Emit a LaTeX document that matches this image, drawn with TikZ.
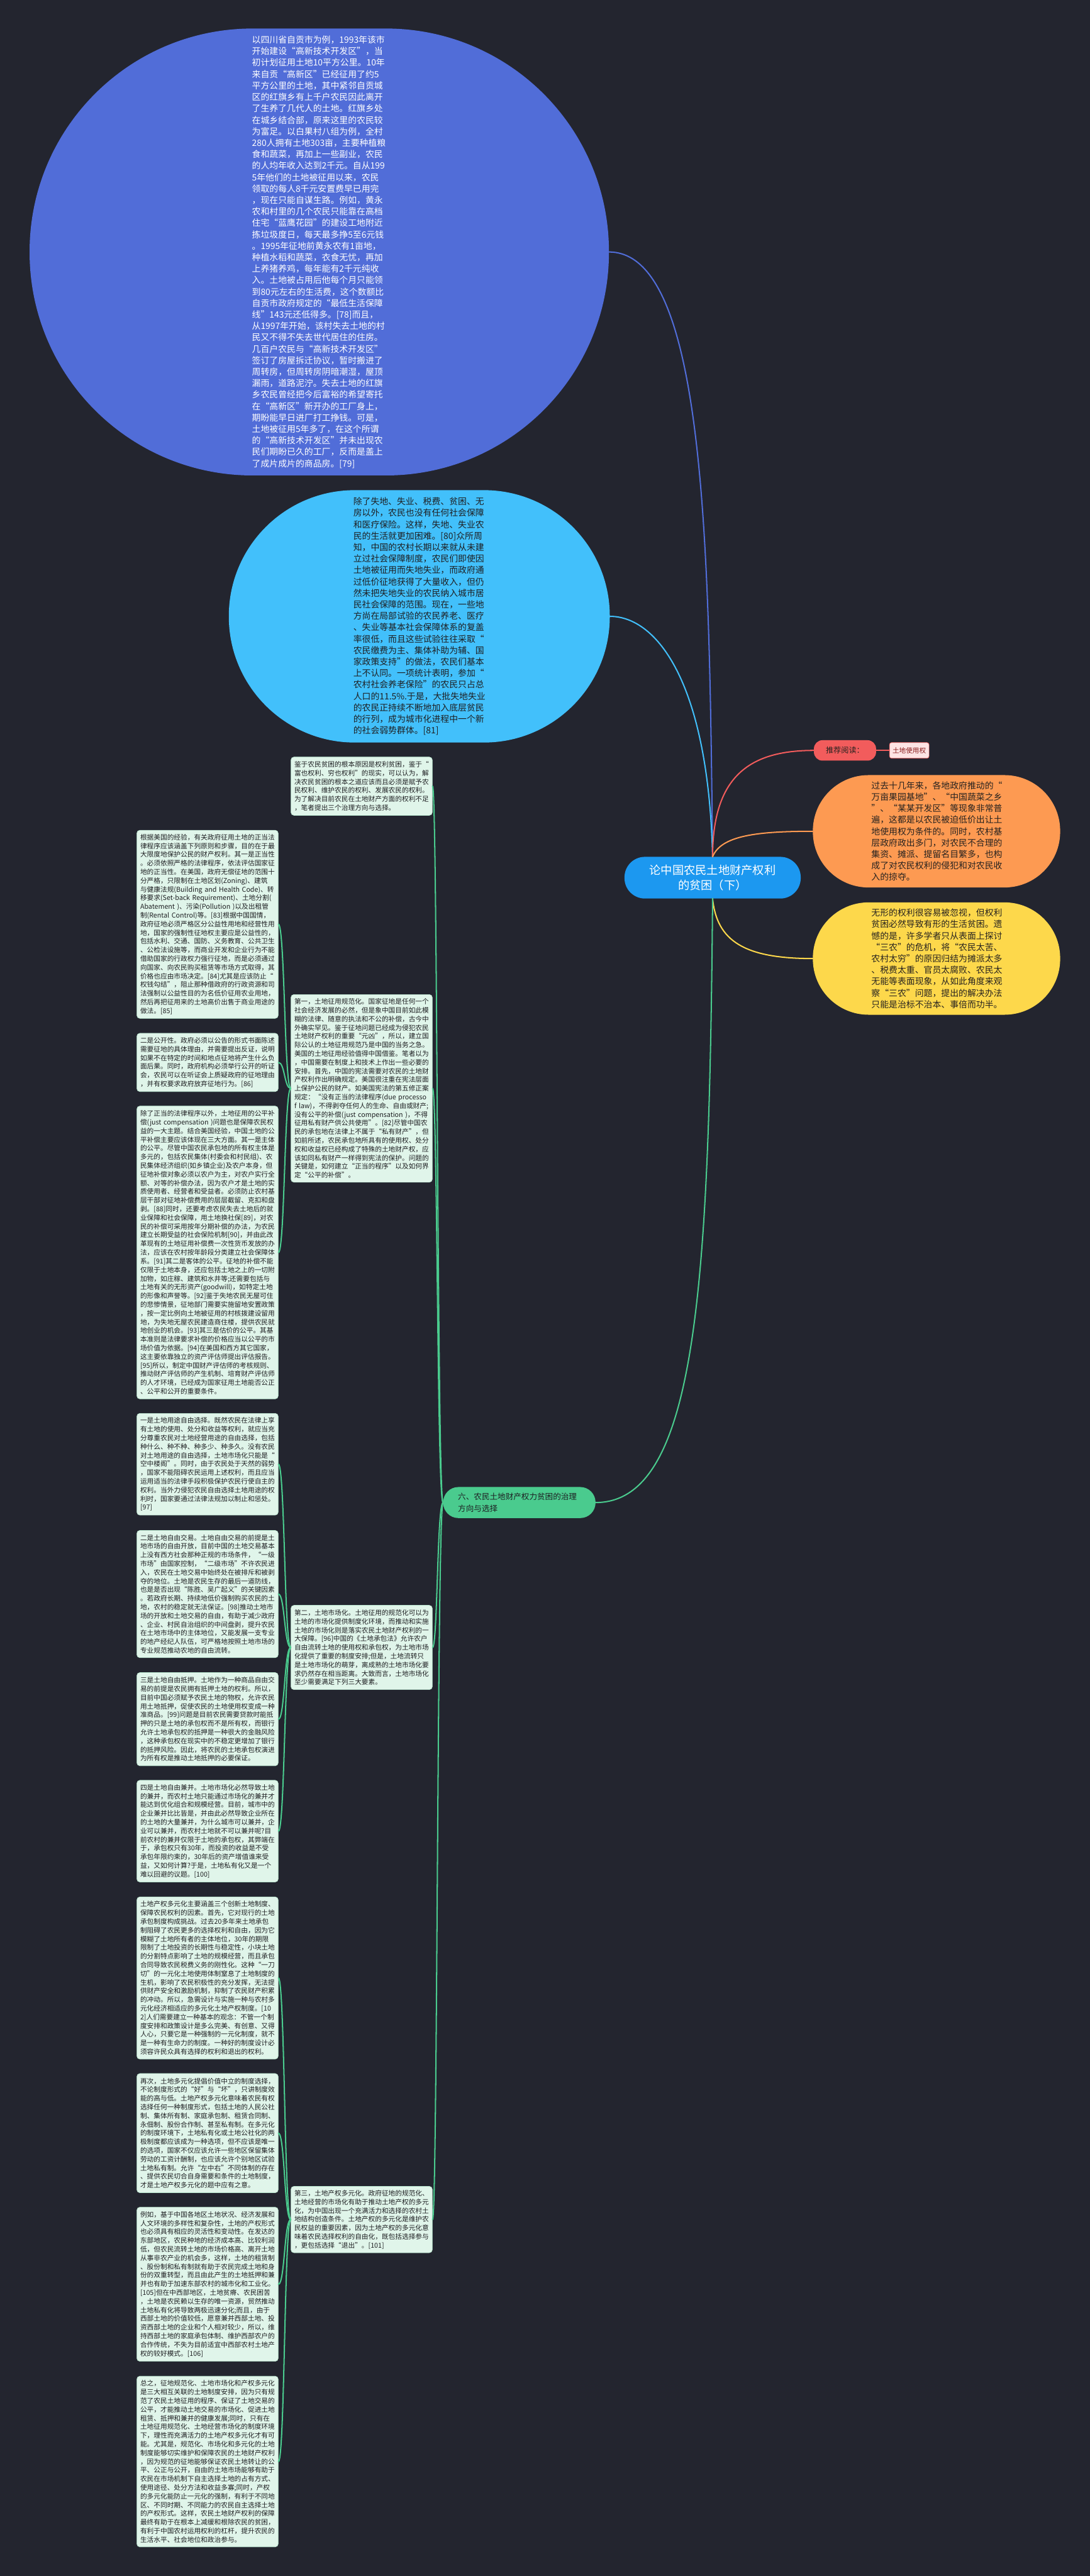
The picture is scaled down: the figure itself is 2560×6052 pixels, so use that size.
\documentclass[tikz,border=0pt]{standalone}
\usepackage{fontspec}
\setmainfont{Noto Sans CJK SC}
\definecolor{bg}{HTML}{23252F}
\definecolor{circblue}{HTML}{516DD8}
\definecolor{ovalblue}{HTML}{42C0FB}
\definecolor{orangec}{HTML}{FD9A52}
\definecolor{yellowc}{HTML}{FDD84B}
\definecolor{centerc}{HTML}{1C98F0}
\definecolor{coral}{HTML}{F25C5C}
\definecolor{pinkfill}{HTML}{FDE4E4}
\definecolor{darkred}{HTML}{8A1C1C}
\definecolor{greenc}{HTML}{4ACB8E}
\definecolor{boxfill}{HTML}{E0F5EA}
\definecolor{boxline}{HTML}{B9E6CF}
\definecolor{boxtext}{HTML}{1E1F22}
\definecolor{darktext}{HTML}{26221F}
\begin{document}
\begin{tikzpicture}[x=1pt,y=-1pt,
  conn/.style={line width=3pt,line cap=round},
  box/.style={draw=boxline,line width=1pt,fill=boxfill,rounded corners=7pt,text width=316pt,inner xsep=8pt,inner ysep=0pt,align=left,text=boxtext,font=\fontsize{15.8pt}{20.4pt}\selectfont,anchor=north west},
  blob/.style={inner sep=0pt,align=left,font=\fontsize{20.5pt}{26.9pt}\selectfont},
]
\useasboundingbox (0,0) rectangle (2560,6052);
\fill[bg] (0,0) rectangle (2560,6052);

% ---------- big shapes ----------
\node[blob,fill=circblue,rounded corners=524pt,minimum width=1361pt,minimum height=1050pt,text width=316pt,text=white] (circ) at (750,592) {以四川省自贡市为例，1993年该市\\
开始建设“高新技术开发区”，当\\
初计划征用土地10平方公里。10年\\
来自贡“高新区”已经征用了约5\\
平方公里的土地，其中紧邻自贡城\\
区的红旗乡有上千户农民因此离开\\
了生养了几代人的土地。红旗乡处\\
在城乡结合部，原来这里的农民较\\
为富足。以白果村八组为例，全村\\
280人拥有土地303亩，主要种植粮\\
食和蔬菜，再加上一些副业，农民\\
的人均年收入达到2千元。自从199\\
5年他们的土地被征用以来，农民\\
领取的每人8千元安置费早已用完\\
，现在只能自谋生路。例如，黄永\\
农和村里的几个农民只能靠在高档\\
住宅“蓝鹰花园”的建设工地附近\\
拣垃圾度日，每天最多挣5至6元钱\\
。1995年征地前黄永农有1亩地，\\
种植水稻和蔬菜，衣食无忧，再加\\
上养猪养鸡，每年能有2千元纯收\\
入。土地被占用后他每个月只能领\\
到80元左右的生活费，这个数额比\\
自贡市政府规定的“最低生活保障\\
线”143元还低得多。[78]而且，\\
从1997年开始，该村失去土地的村\\
民又不得不失去世代居住的住房。\\
几百户农民与“高新技术开发区”\\
签订了房屋拆迁协议，暂时搬进了\\
周转房，但周转房阴暗潮湿，屋顶\\
漏雨，道路泥泞。失去土地的红旗\\
乡农民曾经把今后富裕的希望寄托\\
在“高新区”新开办的工厂身上，\\
期盼能早日进厂打工挣钱。可是，\\
土地被征用5年多了，在这个所谓\\
的“高新技术开发区”并未出现农\\
民们期盼已久的工厂，反而是盖上\\
了成片成片的商品房。[79]};

\node[blob,fill=ovalblue,rounded corners=296pt,minimum width=895pt,minimum height=593pt,text width=310pt,text=boxtext] (oval) at (985,1448) {除了失地、失业、税费、贫困、无\\
房以外，农民也没有任何社会保障\\
和医疗保险。这样，失地、失业农\\
民的生活就更加困难。[80]众所周\\
知，中国的农村长期以来就从未建\\
立过社会保障制度，农民们即使因\\
土地被征用而失地失业，而政府通\\
过低价征地获得了大量收入，但仍\\
然未把失地失业的农民纳入城市居\\
民社会保障的范围。现在，一些地\\
方尚在局部试验的农民养老、医疗\\
、失业等基本社会保障体系的复盖\\
率很低，而且这些试验往往采取“\\
农民缴费为主、集体补助为辅、国\\
家政策支持”的做法，农民们基本\\
上不认同。一项统计表明，参加“\\
农村社会养老保险”的农民只占总\\
人口的11.5\%.于是，大批失地失业\\
的农民正持续不断地加入底层贫民\\
的行列，成为城市化进程中一个新\\
的社会弱势群体。[81]};

\node[blob,fill=orangec,rounded corners=131pt,minimum width=581pt,minimum height=264pt,text width=306pt,text=darktext] (org) at (2200,1953) {过去十几年来，各地政府推动的“\\
万亩果园基地”、“中国蔬菜之乡\\
”、“某某开发区”等现象非常普\\
遍，这都是以农民被迫低价出让土\\
地使用权为条件的。同时，农村基\\
层政府政出多门，对农民不合理的\\
集资、摊派、提留名目繁多，也构\\
成了对农民权利的侵犯和对农民收\\
入的掠夺。};

\node[blob,fill=yellowc,rounded corners=131pt,minimum width=581pt,minimum height=264pt,text width=306pt,text=darktext] (yel) at (2200,2252) {无形的权利很容易被忽视，但权利\\
贫困必然导致有形的生活贫困。遗\\
憾的是，许多学者只从表面上探讨\\
“三农”的危机，将“农民太苦、\\
农村太穷”的原因归结为摊派太多\\
、税费太重、官员太腐败、农民太\\
无能等表面现象，从如此角度来观\\
察“三农”问题，提出的解决办法\\
只能是治标不治本、事倍而功半。};

\node[fill=centerc,rounded corners=48pt,minimum width=414pt,minimum height=98pt,inner sep=0pt,align=center,text=white,font=\fontsize{27pt}{36pt}\selectfont] (center) at (1674,2062) {论中国农民土地财产权利\\的贫困（下）};

\node[fill=coral,rounded corners=20pt,minimum width=146pt,minimum height=48pt,inner sep=0pt,text=darktext,font=\fontsize{18pt}{22pt}\selectfont] (tj) at (1985,1763) {推荐阅读：};
\node[fill=pinkfill,draw=coral,line width=1pt,rounded corners=5pt,minimum width=93pt,minimum height=37pt,inner sep=0pt,text=darkred,font=\fontsize{15.7pt}{19pt}\selectfont] (tdsyq) at (2136,1763) {土地使用权};

\node[fill=greenc,rounded corners=36pt,minimum width=358pt,minimum height=73pt,inner sep=0pt,text width=288pt,align=left,text=boxtext,font=\fontsize{18.6pt}{27pt}\selectfont] (branch) at (1220,3530) {六、农民土地财产权力贫困的治理\\方向与选择};

% ---------- middle column ----------
\node[box,minimum height=137pt] (M0) at (683,1778) {鉴于农民贫困的根本原因是权利贫困，鉴于“\\
富也权利、穷也权利”的现实，可以认为，解\\
决农民贫困的根本之道应该而且必须是赋予农\\
民权利、维护农民的权利、发展农民的权利。\\
为了解决目前农民在土地财产方面的权利不足\\
，笔者提出三个治理方向与选择。};

\node[box,minimum height=441pt] (M1) at (683,2336) {第一，土地征用规范化。国家征地是任何一个\\
社会经济发展的必然，但是象中国目前如此模\\
糊的法律、随意的执法和不公的补偿，古今中\\
外确实罕见。鉴于征地问题已经成为侵犯农民\\
土地财产权利的重要“元凶”，所以，建立国\\
际公认的土地征用规范乃是中国的当务之急。\\
美国的土地征用经验值得中国借鉴。笔者以为\\
，中国需要在制度上和技术上作出一些必要的\\
安排。首先，中国的宪法需要对农民的土地财\\
产权利作出明确规定。美国很注重在宪法层面\\
上保护公民的财产。如美国宪法的第五修正案\\
\mbox{规定：“没有正当的法律程序(due processo}\\
\mbox{f law)，不得剥夺任何人的生命、自由或财产;}\\
\mbox{没有公平的补偿(just compensation )，不得}\\
征用私有财产供公共使用”。[82]尽管中国农\\
民的承包地在法律上不属于“私有财产”，但\\
如前所述，农民承包地所具有的使用权、处分\\
权和收益权已经构成了特殊的土地财产权，应\\
该如同私有财产一样得到宪法的保护。问题的\\
关键是，如何建立“正当的程序”以及如何界\\
定“公平的补偿”。};

\node[box,minimum height=198pt] (M2) at (683,3771) {第二，土地市场化。土地征用的规范化可以为\\
土地的市场化提供制度化环境，而推动和实施\\
土地的市场化则是落实农民土地财产权利的一\\
大保障。[96]中国的《土地承包法》允许农户\\
自由流转土地的使用权和承包权，为土地市场\\
化提供了重要的制度安排;但是，土地流转只\\
是土地市场化的萌芽，离成熟的土地市场化要\\
求仍然存在相当距离。大致而言，土地市场化\\
至少需要满足下列三大要素。};

\node[box,minimum height=156pt] (M3) at (683,5136) {第三，土地产权多元化。政府征地的规范化、\\
土地经营的市场化有助于推动土地产权的多元\\
化，为中国出现一个充满活力和选择的农村土\\
地结构创造条件。土地产权的多元化是维护农\\
民权益的重要因素，因为土地产权的多元化意\\
味着农民选择权利的自由化，既包括选择参与\\
，更包括选择“退出”。[101]};

% ---------- left column ----------
\node[box,minimum height=442pt] (L1) at (321,1950) {根据美国的经验，有关政府征用土地的正当法\\
律程序应该涵盖下列原则和步骤，目的在于最\\
大限度地保护公民的财产权利。其一是正当性\\
。必须依照严格的法律程序，依法评估国家征\\
地的正当性。在美国，政府无偿征地的范围十\\
分严格，只限制在土地区划(Zoning)、建筑\\
\mbox{与健康法规(Building and Health Code)、转}\\
\mbox{移要求(Set-back Requirement)、土地分割(}\\
\mbox{Abatement )、污染(Pollution )以及出租管}\\
\mbox{制(Rental Control)等。[83]根据中国国情，}\\
政府征地必须严格区分公益性用地和经营性用\\
地，国家的强制性征地权主要应是公益性的，\\
包括水利、交通、国防、义务教育、公共卫生\\
、公检法设施等，而商业开发和企业行为不能\\
借助国家的行政权力强行征地，而是必须通过\\
向国家、向农民购买租赁等市场方式取得，其\\
价格也应由市场决定。[84]尤其是应该防止“\\
权钱勾结”，阻止那种借政府的行政资源和司\\
法强制以公益性目的为名低价征用农业用地，\\
然后再把征用来的土地高价出售于商业用途的\\
做法。[85]};

\node[box,minimum height=137pt] (L2) at (321,2427) {二是公开性。政府必须以公告的形式书面陈述\\
需要征地的具体理由，并需要提出反证，说明\\
如果不在特定的时间和地点征地将产生什么负\\
面后果。同时，政府机构必须举行公开的听证\\
会，农民可以在听证会上质疑政府的征地理由\\
，并有权要求政府放弃征地行为。[86]};

\node[box,minimum height=688pt] (L3) at (321,2598) {除了正当的法律程序以外，土地征用的公平补\\
\mbox{偿(just compensation )问题也是保障农民权}\\
益的一大主题。结合美国经验，中国土地的公\\
平补偿主要应该体现在三大方面。其一是主体\\
的公平。尽管中国农民承包地的所有权主体是\\
多元的，包括农民集体(村委会和村民组)、农\\
民集体经济组织(如乡镇企业)及农户本身，但\\
征地补偿对象必须以农户为主，对农户实行全\\
额、对等的补偿办法，因为农户才是土地的实\\
质使用者、经营者和受益者。必须防止农村基\\
层干部对征地补偿费用的层层截留、克扣和盘\\
剥。[88]同时，还要考虑农民失去土地后的就\\
业保障和社会保障，用土地换社保[89]，对农\\
民的补偿可采用按年分期补偿的办法，为农民\\
建立长期受益的社会保险机制[90]，并由此改\\
革现有的土地征用补偿费一次性货币发放的办\\
法，应该在农村按年龄段分类建立社会保障体\\
系。[91]其二是客体的公平。征地的补偿不能\\
仅限于土地本身，还应包括土地之上的一切附\\
加物，如庄稼、建筑和水井等;还需要包括与\\
土地有关的无形资产(goodwill)，如特定土地\\
的形像和声誉等。[92]鉴于失地农民无屋可住\\
的悲惨情景，征地部门需要实施留地安置政策\\
，按一定比例向土地被征用的村核拨建设留用\\
地，为失地无屋农民建造商住楼，提供农民就\\
地创业的机会。[93]其三是估价的公平。其基\\
本准则是法律要求补偿的价格应当以公平的市\\
场价值为依据。[94]在美国和西方其它国家，\\
这主要依靠独立的资产评估师提出评估报告。\\
\mbox{[95]所以，制定中国财产评估师的考核规则、}\\
推动财产评估师的产生机制、培育财产评估师\\
的人才环境，已经成为国家征用土地能否公正\\
、公平和公开的重要条件。};

\node[box,minimum height=239pt] (L4) at (321,3320) {一是土地用途自由选择。既然农民在法律上享\\
有土地的使用、处分和收益等权利，就应当充\\
分尊重农民对土地经营用途的自由选择，包括\\
种什么、种不种、种多少、种多久。没有农民\\
对土地用途的自由选择，土地市场化只能是“\\
空中楼阁”。同时，由于农民处于天然的弱势\\
，国家不能阻碍农民运用上述权利，而且应当\\
运用适当的法律手段积极保护农民行使自主的\\
权利。当外力侵犯农民自由选择土地用途的权\\
利时，国家要通过法律法规加以制止和惩处。\\
\mbox{[97]}};

\node[box,minimum height=299pt] (L5) at (321,3595) {二是土地自由交易。土地自由交易的前提是土\\
地市场的自由开放，目前中国的土地交易基本\\
上没有西方社会那种正规的市场条件，“一级\\
市场”由国家控制，“二级市场”不许农民进\\
入，农民在土地交易中始终处在被排斥和被剥\\
夺的地位。土地是农民生存的最后一道防线，\\
也是是否出现“陈胜、吴广起义”的关键因素\\
。若政府长期、持续地低价强制购买农民的土\\
地，农村的稳定就无法保证。[98]推动土地市\\
场的开放和土地交易的自由，有助于减少政府\\
、企业、村民自治组织的中间盘剥，提升农民\\
在土地市场中的主体地位，又能发展一支专业\\
的地产经纪人队伍，可严格地按照土地市场的\\
专业规范推动农地的自由流转。};

\node[box,minimum height=219pt] (L6) at (321,3929) {三是土地自由抵押。土地作为一种商品自由交\\
易的前提是农民拥有抵押土地的权利。所以，\\
目前中国必须赋予农民土地的物权，允许农民\\
用土地抵押，促使农民的土地使用权变成一种\\
准商品。[99]问题是目前农民需要贷款时能抵\\
押的只是土地的承包权而不是所有权，而银行\\
允许土地承包权的抵押是一种很大的金融风险\\
，这种承包权在现实中的不稳定更增加了银行\\
的抵押风险。因此，将农民的土地承包权演进\\
为所有权是推动土地抵押的必要保证。};

\node[box,minimum height=239pt] (L7) at (321,4182) {四是土地自由兼并。土地市场化必然导致土地\\
的兼并，而农村土地只能通过市场化的兼并才\\
能达到优化组合和规模经营。目前，城市中的\\
企业兼并比比皆是，并由此必然导致企业所在\\
的土地的大量兼并，为什么城市可以兼并，企\\
业可以兼并，而农村土地就不可以兼并呢?目\\
前农村的兼并仅限于土地的承包权，其弊端在\\
于，承包权只有30年，而投资的收益是不受\\
承包年限约束的，30年后的资产增值谁来受\\
益，又如何计算?于是，土地私有化又是一个\\
难以回避的议题。[100]};

\node[box,minimum height=381pt] (L8) at (321,4456) {土地产权多元化主要涵盖三个创新土地制度、\\
保障农民权利的因素。首先，它对现行的土地\\
承包制度构成挑战。过去20多年来土地承包\\
制阻碍了农民更多的选择权利和自由，因为它\\
模糊了土地所有者的主体地位，30年的期限\\
限制了土地投资的长期性与稳定性，小块土地\\
的分割特点影响了土地的规模经营，而且承包\\
合同导致农民税费义务的刚性化。这种“一刀\\
切”的一元化土地使用体制窒息了土地制度的\\
生机，影响了农民积极性的充分发挥，无法提\\
供财产安全和激励机制，抑制了农民财产积累\\
的冲动。所以，急需设计与实施一种与农村多\\
元化经济相适应的多元化土地产权制度。[10\\
2]人们需要建立一种基本的观念：不管一个制\\
度安排和政策设计是多么完美、有创意、又得\\
人心，只要它是一种强制的一元化制度，就不\\
是一种有生命力的制度。一种好的制度设计必\\
须容许民众具有选择的权利和退出的权利。};

\node[box,minimum height=280pt] (L9) at (321,4871) {再次，土地多元化提倡价值中立的制度选择，\\
不论制度形式的“好”与“坏”，只讲制度效\\
能的高与低。土地产权多元化意味着农民有权\\
选择任何一种制度形式，包括土地的人民公社\\
制、集体所有制、家庭承包制、租赁合同制、\\
永佃制、股份合作制、甚至私有制。在多元化\\
的制度环境下，土地私有化或土地公社化的两\\
极制度都应该成为一种选项，但不应该是唯一\\
的选项，国家不仅应该允许一些地区保留集体\\
劳动的工资计酬制，也应该允许个别地区试验\\
土地私有制。允许“左中右”不同体制的存在\\
、提供农民切合自身需要和条件的土地制度，\\
才是土地产权多元化的题中应有之意。};

\node[box,minimum height=362pt] (L10) at (321,5185) {例如，基于中国各地区土地状况、经济发展和\\
人文环境的多样性和复杂性，土地的产权形式\\
也必须具有相应的灵活性和变动性。在发达的\\
东部地区，农民种地的经济成本高、比较利润\\
低，但农民流转土地的市场价格高、离开土地\\
从事非农产业的机会多，这样，土地的租赁制\\
、股份制和私有制就有助于农民完成土地和身\\
份的双重转型，而且由此产生的土地抵押和兼\\
并也有助于加速东部农村的城市化和工业化。\\
\mbox{[105]但在中西部地区，土地贫瘠、农民困苦}\\
，土地是农民赖以生存的唯一资源，贸然推动\\
土地私有化将导致两极迅速分化;而且，由于\\
西部土地的价值较低，愿意兼并西部土地、投\\
资西部土地的企业和个人相对较少，所以，维\\
持西部土地的家庭承包体制、维护西部农户的\\
合作传统，不失为目前适宜中西部农村土地产\\
权的较好模式。[106]};

\node[box,minimum height=401pt] (L11) at (321,5582) {总之，征地规范化、土地市场化和产权多元化\\
是三大相互关联的土地制度安排，因为只有规\\
范了农民土地征用的程序、保证了土地交易的\\
公平，才能推动土地交易的市场化、促进土地\\
租赁、抵押和兼并的健康发展;同时，只有在\\
土地征用规范化、土地经营市场化的制度环境\\
下，理性而充满活力的土地产权多元化才有可\\
能。尤其是，规范化、市场化和多元化的土地\\
制度能够切实维护和保障农民的土地财产权利\\
，因为规范的征地能够保证农民土地转让的公\\
平、公正与公开，自由的土地市场能够有助于\\
农民在市场机制下自主选择土地的占有方式、\\
使用途径、处分方法和收益多寡;同时，产权\\
的多元化能防止一元化的强制，有利于不同地\\
区、不同时期、不同能力的农民自主选择土地\\
的产权形式。这样，农民土地财产权利的保障\\
最终有助于在根本上减缓和根除农民的贫困，\\
有利于中国农村运用权利的杠杆，提升农民的\\
生活水平、社会地位和政治参与。};

% ---------- connectors ----------
\draw[conn,circblue] (circ.east) .. controls +(230,0) and +(-8,-700) .. (center.north);
\draw[conn,ovalblue] (oval.east) .. controls +(110,0) and +(-10,-410) .. (center.north);
\draw[conn,coral] (center.north) .. controls +(0,-190) and +(-150,0) .. (tj.west);
\draw[conn,coral] (tj.east) -- (tdsyq.west);
\draw[conn,orangec] (center.north) .. controls +(20,-50) and +(-130,0) .. (org.west);
\draw[conn,yellowc] (center.south) .. controls +(10,100) and +(-160,0) .. (yel.west);
\draw[conn,greenc] (center.south) .. controls +(-8,900) and +(240,0) .. (branch.east);

\foreach \m in {M0,M1,M2,M3}
  \draw[conn,greenc] (branch.west) .. controls +(-14,0) and +(12,0) .. (\m.east);
\foreach \l in {L1,L2,L3}
  \draw[conn,greenc] (M1.west) .. controls +(-15,0) and +(15,0) .. (\l.east);
\foreach \l in {L4,L5,L6,L7}
  \draw[conn,greenc] (M2.west) .. controls +(-15,0) and +(15,0) .. (\l.east);
\foreach \l in {L8,L9,L10,L11}
  \draw[conn,greenc] (M3.west) .. controls +(-15,0) and +(15,0) .. (\l.east);
\end{tikzpicture}
\end{document}
